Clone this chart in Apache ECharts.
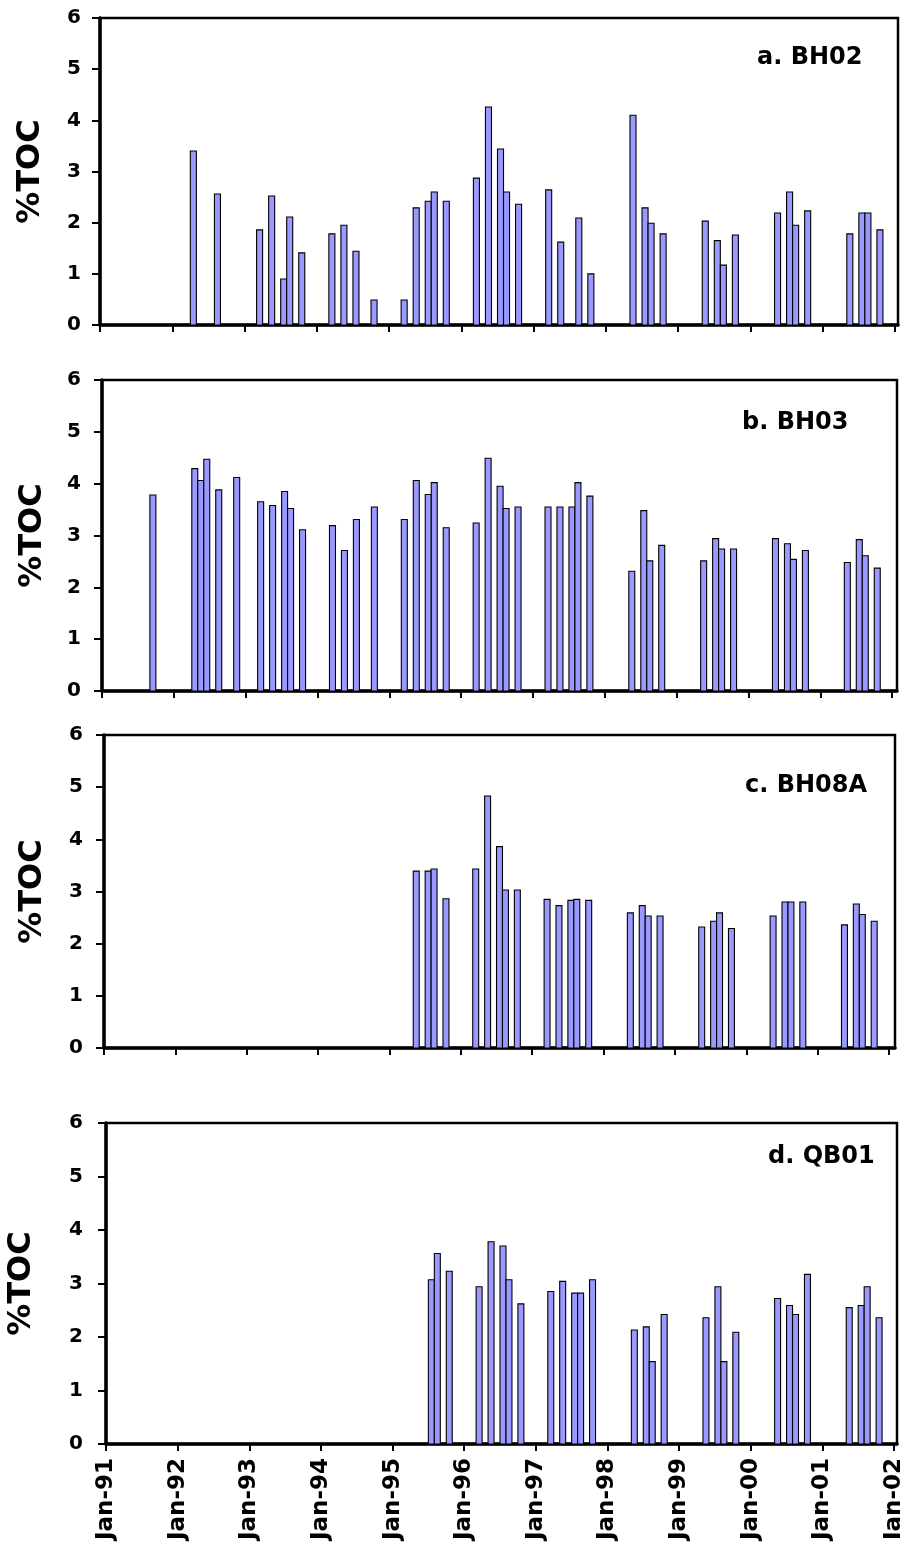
<!DOCTYPE html>
<html>
<head>
<meta charset="utf-8">
<script src="https://cdn.jsdelivr.net/npm/echarts@6/dist/echarts.min.js"></script>
<style>
  html, body { margin: 0; padding: 0; background: #fff; }
  #chart { width: 900px; height: 1558px; }
</style>
</head>
<body>
<div id="chart"></div>
<script>
// ---- Data (sample month, %TOC) ----
const bh02Dates = ['1992-04','1992-08','1993-03','1993-05','1993-07','1993-08','1993-10','1994-03','1994-05','1994-07','1994-10','1995-03','1995-05','1995-07','1995-08','1995-10','1996-03','1996-05','1996-07','1996-08','1996-10','1997-03','1997-05','1997-08','1997-10','1998-05','1998-07','1998-08','1998-10','1999-05','1999-07','1999-08','1999-10','2000-05','2000-07','2000-08','2000-10','2001-05','2001-07','2001-08','2001-10'];
const bh02Values = [3.40,2.56,1.86,2.52,0.90,2.11,1.41,1.78,1.95,1.44,0.49,0.49,2.29,2.42,2.60,2.42,2.87,4.26,3.44,2.60,2.36,2.64,1.62,2.09,1.00,4.10,2.29,1.99,1.78,2.03,1.65,1.17,1.76,2.19,2.60,1.95,2.23,1.78,2.19,2.19,1.86];

const bh03Dates = ['1991-09','1992-04','1992-05','1992-06','1992-08','1992-11','1993-03','1993-05','1993-07','1993-08','1993-10','1994-03','1994-05','1994-07','1994-10','1995-03','1995-05','1995-07','1995-08','1995-10','1996-03','1996-05','1996-07','1996-08','1996-10','1997-03','1997-05','1997-07','1997-08','1997-10','1998-05','1998-07','1998-08','1998-10','1999-05','1999-07','1999-08','1999-10','2000-05','2000-07','2000-08','2000-10','2001-05','2001-07','2001-08','2001-10'];
const bh03Values = [3.78,4.29,4.06,4.47,3.88,4.12,3.65,3.58,3.85,3.52,3.11,3.19,2.71,3.31,3.55,3.31,4.06,3.79,4.02,3.15,3.24,4.49,3.95,3.52,3.55,3.55,3.55,3.55,4.02,3.76,2.31,3.48,2.51,2.81,2.51,2.94,2.74,2.74,2.94,2.84,2.54,2.71,2.48,2.92,2.61,2.37];

const bh08aDates = ['1995-05','1995-07','1995-08','1995-10','1996-03','1996-05','1996-07','1996-08','1996-10','1997-03','1997-05','1997-07','1997-08','1997-10','1998-05','1998-07','1998-08','1998-10','1999-05','1999-07','1999-08','1999-10','2000-05','2000-07','2000-08','2000-10','2001-05','2001-07','2001-08','2001-10'];
const bh08aValues = [3.39,3.39,3.43,2.86,3.43,4.83,3.86,3.03,3.03,2.85,2.73,2.83,2.85,2.83,2.59,2.73,2.53,2.53,2.32,2.43,2.59,2.29,2.53,2.80,2.80,2.80,2.36,2.76,2.56,2.43];

const qb01Dates = ['1995-07','1995-08','1995-10','1996-03','1996-05','1996-07','1996-08','1996-10','1997-03','1997-05','1997-07','1997-08','1997-10','1998-05','1998-07','1998-08','1998-10','1999-05','1999-07','1999-08','1999-10','2000-05','2000-07','2000-08','2000-10','2001-05','2001-07','2001-08','2001-10'];
const qb01Values = [3.07,3.56,3.23,2.94,3.78,3.70,3.07,2.62,2.85,3.04,2.82,2.82,3.07,2.13,2.19,1.54,2.42,2.36,2.94,1.54,2.09,2.72,2.59,2.42,3.17,2.55,2.59,2.94,2.36];

const panelTitles = ['a. BH02', 'b. BH03', 'c. BH08A', 'd. QB01'];
const yTicks = [0, 1, 2, 3, 4, 5, 6];
const xTickLabels = ['Jan-91','Jan-92','Jan-93','Jan-94','Jan-95','Jan-96','Jan-97','Jan-98','Jan-99','Jan-00','Jan-01','Jan-02'];
const yAxisName = '%TOC';

// ---- helpers ----
// month offset from Jan-91 (start of the sampling month)
function monthStart(d) {
  const [y, m] = d.split('-').map(Number);
  return (y - 1991) * 12 + (m - 1);
}
const yearTickValues = xTickLabels.map((_, i) => i * 12);

const FONT = '"DejaVu Sans", "Liberation Sans", Arial, sans-serif';
const panels = [
  { dates: bh02Dates, values: bh02Values, grid: { left: 100, top: 18, width: 798, height: 307 }, xMax: 132.5, nameGap: 53, labelMargin: 19, titleX: 757, titleY: 60 },
  { dates: bh03Dates, values: bh03Values, grid: { left: 102, top: 380, width: 795, height: 311 }, xMax: 132.8, nameGap: 53, labelMargin: 21, titleX: 742, titleY: 425 },
  { dates: bh08aDates, values: bh08aValues, grid: { left: 104, top: 735, width: 791, height: 313 }, xMax: 133.0, nameGap: 55, labelMargin: 21, titleX: 745, titleY: 788 },
  { dates: qb01Dates, values: qb01Values, grid: { left: 106, top: 1123, width: 791, height: 321 }, xMax: 132.5, nameGap: 68, labelMargin: 23, titleX: 768, titleY: 1159 }
];

function renderBar(params, api) {
  const x0 = api.value(0);
  const v = api.value(1);
  const p0 = api.coord([x0, 0]);
  const p1 = api.coord([x0 + 1, v]);
  return {
    type: 'rect',
    shape: { x: p0[0], y: p1[1], width: p1[0] - p0[0], height: p0[1] - p1[1] },
    style: { fill: '#9999FF', stroke: '#000', lineWidth: 1.1 }
  };
}

const grids = [], xAxes = [], yAxes = [], series = [], graphics = [];
panels.forEach((p, i) => {
  grids.push(Object.assign({
    show: true, borderColor: '#000', borderWidth: 2.5, backgroundColor: 'transparent',
    containLabel: false, outerBoundsMode: 'none'
  }, p.grid));
  const isLast = i === panels.length - 1;
  xAxes.push({
    type: 'value', gridIndex: i, min: 0, max: p.xMax,
    splitLine: { show: false },
    axisLine: { show: true, onZero: false, lineStyle: { color: '#000', width: 3.5 } },
    axisTick: { show: true, inside: false, length: 7, lineStyle: { color: '#000', width: 2 }, customValues: yearTickValues },
    axisLabel: isLast ? {
      show: true, rotate: 90, margin: 14, customValues: yearTickValues,
      formatter: v => xTickLabels[Math.round(v / 12)] || '',
      color: '#000', fontFamily: FONT, fontWeight: 'bold', fontSize: 23
    } : { show: false }
  });
  yAxes.push({
    type: 'value', gridIndex: i, min: 0, max: 6, interval: 1,
    name: yAxisName, nameLocation: 'middle', nameGap: p.nameGap, nameRotate: 90,
    nameTextStyle: { color: '#000', fontFamily: FONT, fontWeight: 'bold', fontSize: 32 },
    splitLine: { show: false },
    axisLine: { show: true, lineStyle: { color: '#000', width: 3.5 } },
    axisTick: { show: true, inside: false, length: 8, lineStyle: { color: '#000', width: 2 } },
    axisLabel: { show: true, margin: p.labelMargin, color: '#000', fontFamily: FONT, fontWeight: 'bold', fontSize: 20,
      formatter: v => (yTicks.indexOf(v) >= 0 ? String(v) : '') }
  });
  series.push({
    type: 'custom', xAxisIndex: i, yAxisIndex: i,
    renderItem: renderBar,
    encode: { x: 0, y: 1 },
    data: p.dates.map((d, k) => [monthStart(d), p.values[k]]),
    z: 1,
    animation: false
  });
  graphics.push({
    type: 'text', left: p.titleX, top: p.titleY - 14,
    style: { text: panelTitles[i], fill: '#000', font: 'bold 24px ' + FONT }
  });
});

const chart = echarts.init(document.getElementById('chart'), null, { renderer: 'canvas' });
chart.setOption({
  backgroundColor: '#fff',
  animation: false,
  grid: grids,
  xAxis: xAxes,
  yAxis: yAxes,
  series: series,
  graphic: graphics
});
</script>
</body>
</html>
